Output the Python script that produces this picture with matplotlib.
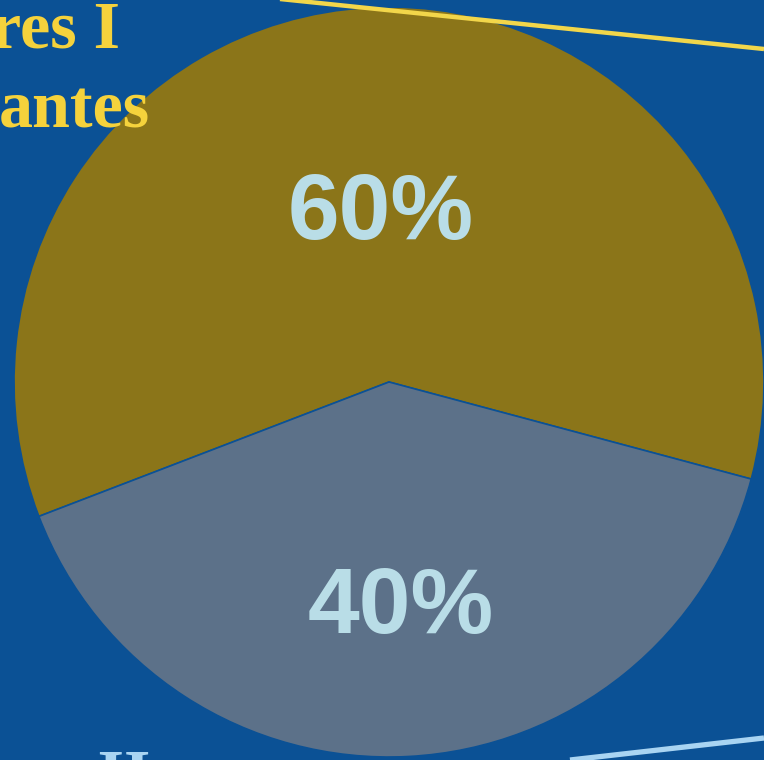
import numpy as np
import matplotlib
matplotlib.use('Agg')
import matplotlib.pyplot as plt

# Slide data
shares = [60, 40]
share_labels = ['60%', '40%']
slice_colors = ['#8b7519', '#5c7189']

bg = '#0b5195'

fig = plt.figure(figsize=(7.64, 7.60), dpi=100)
fig.patch.set_facecolor(bg)
ax = fig.add_axes([0, 0, 1, 1])
ax.set_facecolor(bg)

cx, cy, r = 389, 378, 375
wedges, _ = ax.pie(shares, colors=slice_colors, startangle=-15, counterclock=True,
                   center=(cx, cy), radius=r, frame=True,
                   wedgeprops=dict(edgecolor=bg, linewidth=1.2))
ax.set_xlim(0, 764)
ax.set_ylim(0, 760)
ax.set_aspect('equal')
ax.axis('off')

# Percent labels inside each wedge (small nudges to match the slide)
label_dist = [0.445, 0.605]
nudge = [(0, 0), (0, 0)]
for w, lab, d, (dx, dy) in zip(wedges, share_labels, label_dist, nudge):
    mid = np.deg2rad((w.theta1 + w.theta2) / 2)
    x = cx + d * r * np.cos(mid) + dx
    y = cy + d * r * np.sin(mid) + dy
    ax.text(x, y, lab, ha='center', va='center', fontsize=67, fontweight='bold',
            family='Liberation Sans', color='#b9dde7')

# Slide decorations around the chart
ax.plot([280, 764], [761, 711], color='#f2d64a', lw=3.2, solid_capstyle='butt')
ax.plot([570, 764], [0, 22], color='#a9d4f2', lw=3.8, solid_capstyle='butt')

ax.text(120, 712, 'res I', ha='right', va='baseline', fontsize=49, fontweight='bold',
        family='Liberation Serif', color='#f5d23c')
ax.text(150, 632, 'antes', ha='right', va='baseline', fontsize=49, fontweight='bold',
        family='Liberation Serif', color='#f5d23c')
ax.text(150, -36, 'es II', ha='right', va='baseline', fontsize=49, fontweight='bold',
        family='Liberation Serif', color='#a9d4f2')

fig.savefig('out.png', dpi=100, facecolor=bg)
